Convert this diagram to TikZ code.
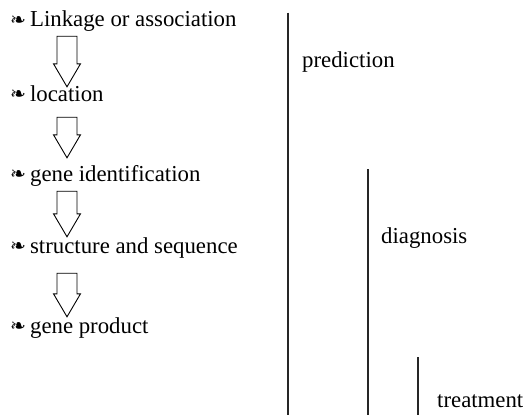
\documentclass[tikz,border=0pt]{standalone}
\usepackage{fontspec}
\setmainfont{Liberation Serif}
\newfontfamily\dingfont{DejaVu Sans}
\usetikzlibrary{calc}
\newcommand{\bul}{\raisebox{1pt}{\dingfont\fontsize{19}{19}\selectfont ❧}\hspace{4pt}}
% block arrow from one step down to the next: from, to, top gap, tip gap
\newcommand{\stepArrow}[4]{%
  \draw[blockarrow] let \p1=($(#1.south)+(0,#3)$), \p2=($(#2.north)+(0,-#4)$), \n1={\y2+23pt} in
    (57pt,\y1) -- (57pt,\n1) -- (53.5pt,\n1) -- (67pt,\y2) -- (80.5pt,\n1) -- (77pt,\n1) -- (77pt,\y1) -- cycle;}

\begin{document}
\begin{tikzpicture}[x=1pt,y=-1pt,
  stepnode/.style={anchor=base west,inner sep=0pt,text height=16pt,text depth=5pt,font=\fontsize{22.8}{26}\selectfont},
  phase/.style={anchor=base west,inner sep=0pt,font=\fontsize{22.8}{26}\selectfont},
  blockarrow/.style={draw=black,line width=0.9pt,line join=miter},
  bar/.style={draw=black!85,line width=1.3pt},
]
  \useasboundingbox (0,0) rectangle (524,415);

  \node[stepnode] (link) at (10,27) {\bul Linkage or association};
  \node[stepnode] (loc) at (10,101) {\bul location};
  \node[stepnode] (gid) at (10,181) {\bul gene identification};
  \node[stepnode] (seq) at (10,253) {\bul structure and sequence};
  \node[stepnode] (prod) at (10,333) {\bul gene product};

  \stepArrow{link}{loc}{4}{-2}
  \stepArrow{loc}{gid}{11}{7}
  \stepArrow{gid}{seq}{5}{0}
  \stepArrow{seq}{prod}{15}{0}

  % the three phases
  \coordinate (pred top) at (288,12.5);
  \coordinate (pred bot) at (288,415);
  \coordinate (diag top) at (368,169);
  \coordinate (diag bot) at (368,415);
  \coordinate (treat top) at (418,357);
  \coordinate (treat bot) at (418,415);
  \draw[bar] (pred top) -- (pred bot);
  \draw[bar] (diag top) -- (diag bot);
  \draw[bar] (treat top) -- (treat bot);

  \node[phase] (pred) at (302,67) {prediction};
  \node[phase] (diag) at (381,243) {diagnosis};
  \node[phase] (treat) at (437,407) {treatment};
\end{tikzpicture}
\end{document}
